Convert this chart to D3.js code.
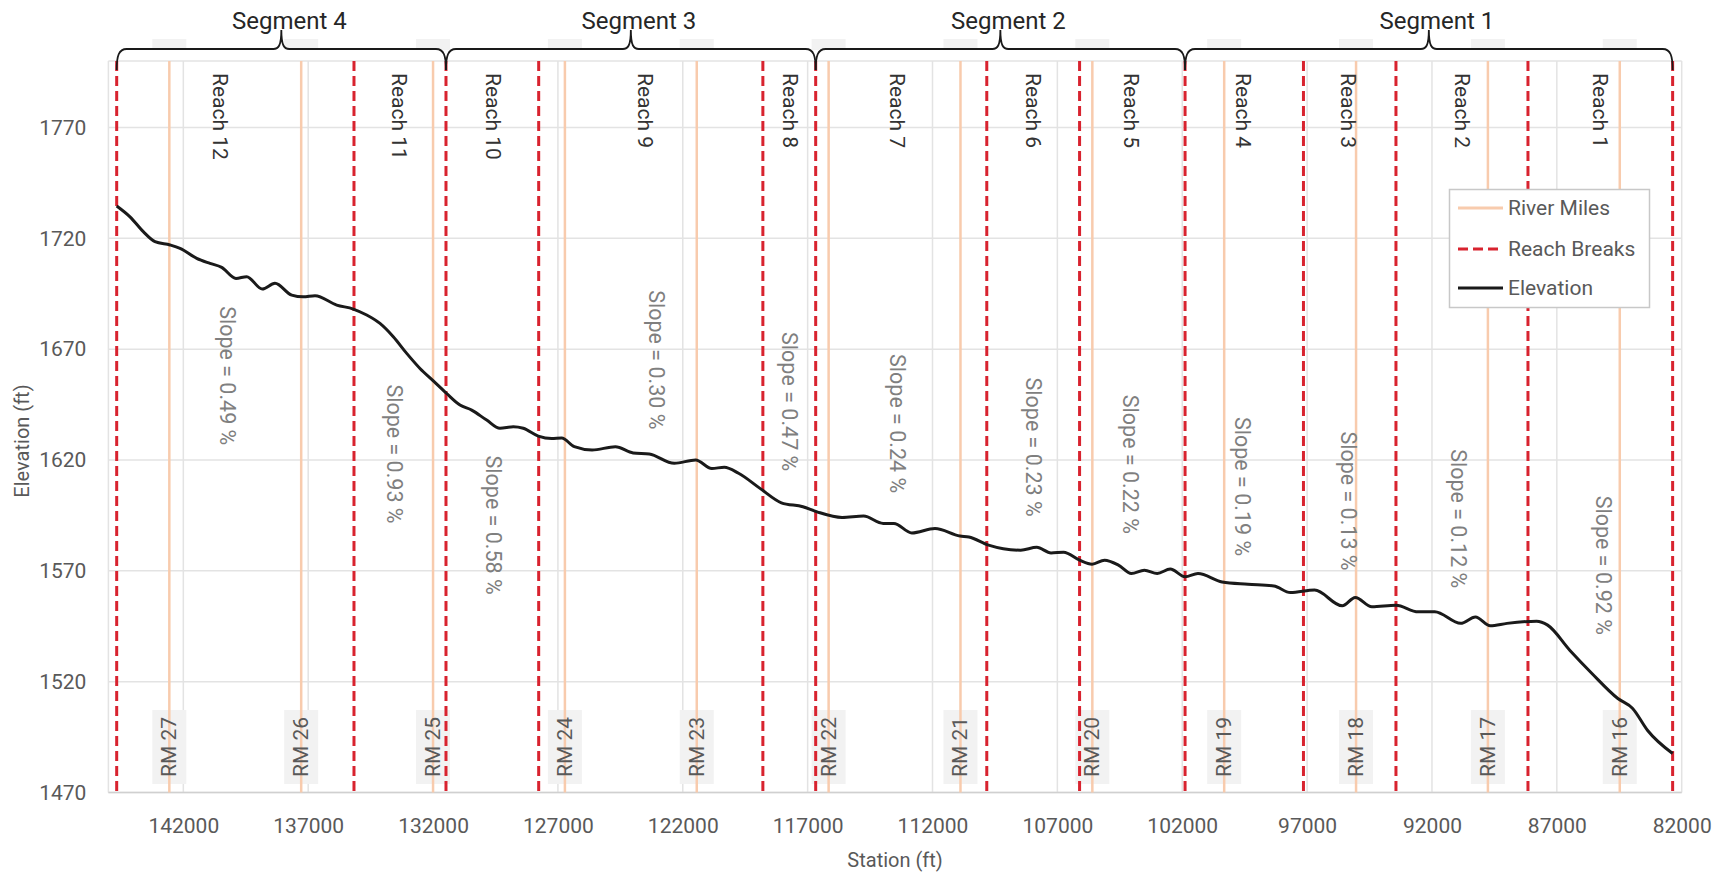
<!DOCTYPE html>
<html><head><meta charset="utf-8">
<script src="https://cdn.jsdelivr.net/npm/d3@7"></script>
<style>
body{margin:0;background:#fff}
svg{display:block}
text{font-family:Roboto,"Liberation Sans",sans-serif}
</style>
</head><body>
<svg id="chart" width="1730" height="878"></svg>
<script>
// ---------- data ----------
const stations = [144668,144135,143603,143134,142533,142133,141464,140932,140463,139891,139462,138838,138329,137660,137196,136727,135858,135194,134657,134125,133592,133055,132523,131990,131454,130921,130453,129852,129320,128787,128387,127786,127249,126850,126344,125632,124699,123986,123341,122340,121483,120839,120338,119766,118909,118052,117191,116622,115622,114760,113975,113547,112830,111901,110900,110544,109755,108470,107825,107252,106752,106111,105611,105110,104554,104037,103516,103000,102480,101887,101370,100405,99368,98331,97666,96701,95592,95072,94407,93442,92553,91888,90851,90259,89666,88997,87812,87368,86483,85594,84557,83964,83372,82363];
const elevations = [1734.6,1729.7,1723.0,1718.5,1717.0,1715.5,1711.0,1708.7,1706.9,1701.9,1702.7,1697.1,1699.7,1694.4,1693.6,1694.1,1689.9,1688.1,1685.4,1681.6,1675.6,1668.1,1661.3,1655.7,1650.0,1644.8,1642.5,1638.0,1634.3,1635.0,1634.3,1630.8,1629.7,1629.9,1626.0,1624.5,1626.0,1623.2,1622.7,1618.5,1620.0,1616.2,1616.7,1614.0,1607.2,1600.7,1598.9,1596.6,1594.1,1594.7,1591.4,1591.4,1587.1,1589.1,1585.7,1585.3,1581.6,1579.3,1580.6,1578.1,1578.4,1574.8,1573.0,1574.8,1572.6,1568.8,1570.3,1568.8,1570.8,1567.3,1568.8,1565.0,1564.0,1563.2,1560.2,1561.3,1554.2,1558.0,1553.8,1554.5,1551.5,1551.5,1546.3,1549.2,1545.2,1546.3,1547.3,1545.5,1534.2,1523.7,1512.4,1507.9,1498.1,1487.6];

const rmLabels = ["RM 27","RM 26","RM 25","RM 24","RM 23","RM 22","RM 21","RM 20","RM 19","RM 18","RM 17","RM 16"];
const rmStations = [142560,137280,132000,126720,121440,116160,110880,105600,100320,95040,89760,84480];

const reachBreaks = [144668,135166,131482,127770,118793,116678,109827,106111,101887,97146,93442,88156,82363];

const reachNames = ["Reach 12","Reach 11","Reach 10","Reach 9","Reach 8","Reach 7","Reach 6","Reach 5","Reach 4","Reach 3","Reach 2","Reach 1"];
const reachLabelStations = [140547,133348,129592,123497,117707,113435,107965,104057,99552,95356,90803,85281];

const slopeTexts = ["Slope = 0.49 %","Slope = 0.93 %","Slope = 0.58 %","Slope = 0.30 %","Slope = 0.47 %","Slope = 0.24 %","Slope = 0.23 %","Slope = 0.22 %","Slope = 0.19 %","Slope = 0.13 %","Slope = 0.12 %","Slope = 0.92 %"];
const slopeStations = [140223,133524,129592,123053,117707,113404,107970,104057,99596,95355,90923,85149];
const slopeElevations = [1658.0,1622.7,1590.6,1665.2,1646.3,1636.4,1625.8,1618.0,1608.0,1601.5,1593.5,1572.5];

const segmentNames = ["Segment 4","Segment 3","Segment 2","Segment 1"];
const segmentStart = [144668,131482,116678,101887];
const segmentEnd = [131482,116678,101887,82363];

const xTicks = [142000,137000,132000,127000,122000,117000,112000,107000,102000,97000,92000,87000,82000];
const yTicks = [1470,1520,1570,1620,1670,1720,1770];
const xDomain = [145000, 82000];
const yDomain = [1470, 1800];

const legendItems = ["River Miles","Reach Breaks","Elevation"];

// ---------- drawing ----------
const svg = d3.select("#chart");
const L = 108.4, R = 1681.7, T = 61, B = 792.5;
const x = d3.scaleLinear().domain(xDomain).range([L, R]);
const y = d3.scaleLinear().domain(yDomain).range([B, T]);

const C = {grid:"#e3e3e3", rm:"#f8cbad", red:"#d8232f", line:"#1a1a1a", tick:"#595959", reach:"#333333", slope:"#7f7f7f"};

// top faint boxes (empty labels)
svg.append("g").selectAll("rect").data(rmStations).join("rect")
  .attr("x", d => x(d) - 17).attr("y", 39).attr("width", 34).attr("height", 11)
  .attr("fill", "#f2f2f2");

// gridlines
const g = svg.append("g");
g.selectAll(".hg").data(yTicks.concat([yDomain[1]])).join("line")
  .attr("x1", L).attr("x2", R).attr("y1", d => y(d)).attr("y2", d => y(d))
  .attr("stroke", C.grid).attr("stroke-width", 1.5);
g.selectAll(".vg").data(xTicks.concat([xDomain[0]])).join("line")
  .attr("x1", d => x(d)).attr("x2", d => x(d)).attr("y1", T).attr("y2", B)
  .attr("stroke", C.grid).attr("stroke-width", 1.5);
g.append("line").attr("x1", L).attr("x2", R).attr("y1", B).attr("y2", B)
  .attr("stroke", "#d0d0d0").attr("stroke-width", 1.5);

// RM label boxes
svg.append("g").selectAll("rect").data(rmStations).join("rect")
  .attr("x", d => x(d) - 17).attr("y", 710).attr("width", 34).attr("height", 74)
  .attr("fill", "#f2f2f2");

// river mile lines
svg.append("g").selectAll("line").data(rmStations).join("line")
  .attr("x1", d => x(d)).attr("x2", d => x(d)).attr("y1", T).attr("y2", B)
  .attr("stroke", C.rm).attr("stroke-width", 2.5);

// RM labels
svg.append("g").selectAll("text").data(rmLabels).join("text")
  .attr("transform", (d, i) => `translate(${x(rmStations[i])},747) rotate(-90)`)
  .attr("text-anchor", "middle").attr("dominant-baseline", "central")
  .attr("font-size", 21).attr("fill", C.tick).text(d => d);

// reach breaks
svg.append("g").selectAll("line").data(reachBreaks).join("line")
  .attr("x1", d => x(d)).attr("x2", d => x(d)).attr("y1", T).attr("y2", B)
  .attr("stroke", C.red).attr("stroke-width", 3).attr("stroke-dasharray", "10,5");

// elevation line
const pts = stations.map((s, i) => [s, elevations[i]]);
svg.append("path").datum(pts)
  .attr("d", d3.line().x(d => x(d[0])).y(d => y(d[1])).curve(d3.curveMonotoneX))
  .attr("fill", "none").attr("stroke", C.line).attr("stroke-width", 3)
  .attr("stroke-linejoin", "round");

// reach labels
svg.append("g").selectAll("text").data(reachNames).join("text")
  .attr("transform", (d, i) => `translate(${x(reachLabelStations[i])},73) rotate(90)`)
  .attr("text-anchor", "start").attr("dominant-baseline", "central")
  .attr("font-size", 21).attr("fill", C.reach).text(d => d);

// slope labels
svg.append("g").selectAll("text").data(slopeTexts).join("text")
  .attr("transform", (d, i) => `translate(${x(slopeStations[i])},${y(slopeElevations[i])}) rotate(90)`)
  .attr("text-anchor", "middle").attr("dominant-baseline", "central")
  .attr("font-size", 21.5).attr("fill", C.slope).text(d => d);

// segment brackets
const br = svg.append("g");
segmentNames.forEach((name, i) => {
  const x0 = x(segmentStart[i]), x1 = x(segmentEnd[i]), xm = (x0 + x1) / 2;
  const yb = 49;
  const p = `M${x0},70 C${x0},56 ${x0+2},${yb} ${x0+10},${yb} L${xm-8},${yb} C${xm-3},${yb} ${xm},${yb-3} ${xm},30 C${xm},${yb-3} ${xm+3},${yb} ${xm+8},${yb} L${x1-10},${yb} C${x1-2},${yb} ${x1},56 ${x1},70`;
  br.append("path").attr("d", p).attr("fill", "none").attr("stroke", "#1a1a1a").attr("stroke-width", 1.8);
  br.append("text").attr("x", xm + 8).attr("y", 29).attr("text-anchor", "middle")
    .attr("font-size", 24).attr("fill", "#262626").text(name);
});

// axes
const xAxis = svg.append("g").attr("transform", `translate(0,${B})`)
  .call(d3.axisBottom(x).tickValues(xTicks).tickSize(0).tickPadding(26).tickFormat(d3.format("d")));
xAxis.select(".domain").remove();
xAxis.selectAll("text").attr("font-size", 21).attr("fill", C.tick).attr("font-family", "Roboto");

const yAxis = svg.append("g").attr("transform", `translate(${L},0)`)
  .call(d3.axisLeft(y).tickValues(yTicks).tickSize(0).tickPadding(22).tickFormat(d3.format("d")));
yAxis.select(".domain").remove();
yAxis.selectAll("text").attr("font-size", 21).attr("fill", C.tick).attr("font-family", "Roboto");

// axis titles
svg.append("text").attr("transform", "translate(22,441) rotate(-90)")
  .attr("text-anchor", "middle").attr("dominant-baseline", "central")
  .attr("font-size", 20).attr("fill", C.tick).text("Elevation (ft)");
svg.append("text").attr("x", (L + R) / 2).attr("y", 860)
  .attr("text-anchor", "middle").attr("dominant-baseline", "central")
  .attr("font-size", 20).attr("fill", C.tick).text("Station (ft)");

// legend
const lg = svg.append("g");
lg.append("rect").attr("x", 1449.5).attr("y", 189.5).attr("width", 200).attr("height", 118)
  .attr("fill", "#fff").attr("stroke", "#c8c8c8").attr("stroke-width", 1.5);
const rowsY = [208, 249, 288];
const legStyles = [
  {stroke: C.rm, w: 3, dash: null},
  {stroke: C.red, w: 3, dash: "10,5"},
  {stroke: C.line, w: 3, dash: null}
];
legendItems.forEach((t, i) => {
  lg.append("line").attr("x1", 1458).attr("x2", 1503).attr("y1", rowsY[i]).attr("y2", rowsY[i])
    .attr("stroke", legStyles[i].stroke).attr("stroke-width", legStyles[i].w)
    .attr("stroke-dasharray", legStyles[i].dash);
  lg.append("text").attr("x", 1508).attr("y", rowsY[i]).attr("dominant-baseline", "central")
    .attr("font-size", 21).attr("fill", C.tick).text(t);
});
</script>
</body></html>
